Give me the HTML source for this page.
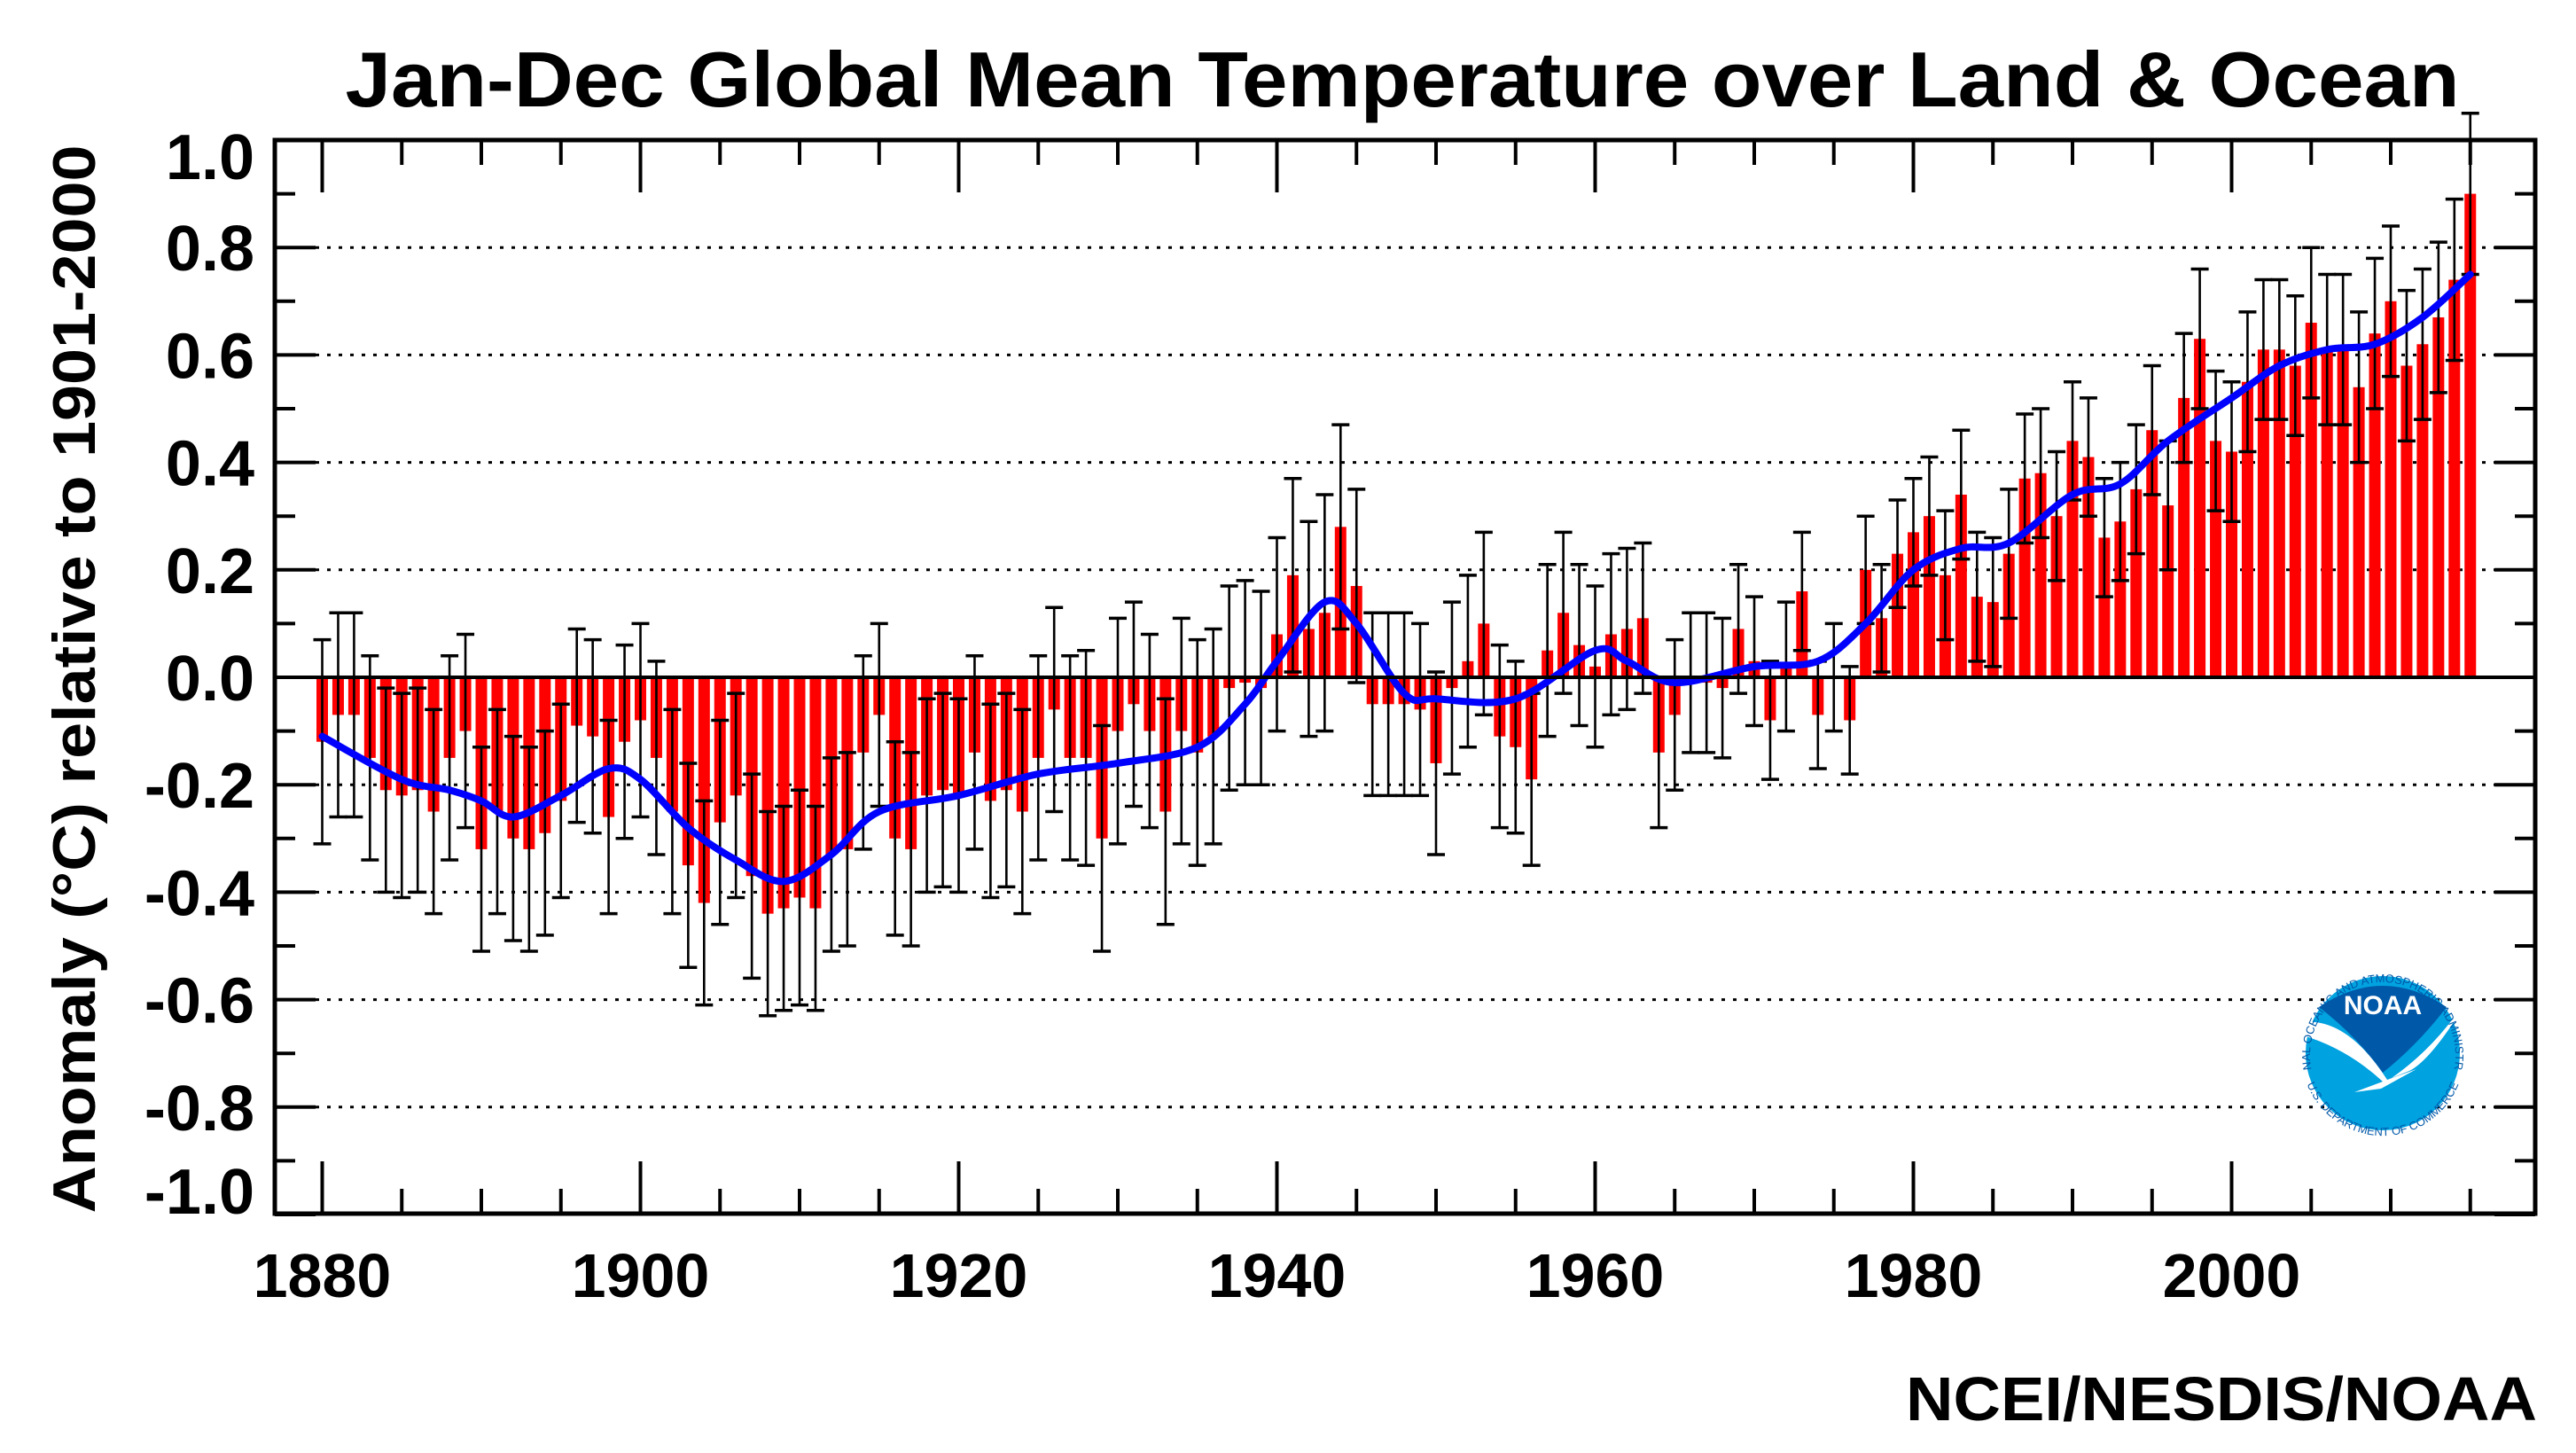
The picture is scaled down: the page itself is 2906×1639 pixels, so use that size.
<!DOCTYPE html>
<html><head><meta charset="utf-8"><style>
html,body{margin:0;padding:0;background:#fff}
svg{display:block;font-family:"Liberation Sans",Arial,sans-serif}
</style></head><body>
<svg id="chart" width="2906" height="1639" viewBox="0 0 2906 1639" xmlns="http://www.w3.org/2000/svg">
<rect width="2906" height="1639" fill="#fff"/>
<text x="1582" y="120" font-size="88" font-weight="bold" text-anchor="middle" textLength="2385" lengthAdjust="spacingAndGlyphs">Jan-Dec Global Mean Temperature over Land &amp; Ocean</text>
<text transform="translate(107,766) rotate(-90)" font-size="68" font-weight="bold" text-anchor="middle" textLength="1205" lengthAdjust="spacingAndGlyphs">Anomaly (°C) relative to 1901-2000</text>
<text x="2862" y="1602" font-size="70" font-weight="bold" text-anchor="end" textLength="712" lengthAdjust="spacingAndGlyphs">NCEI/NESDIS/NOAA</text>
<g id="grid"></g><g id="bars"></g><g id="errs"></g><g id="smooth"></g><g id="axes"></g>
<g transform="translate(2688,1188)">
<defs><path id="arcTop" d="M -80 20 A 82 82 0 1 1 80 20"/><path id="arcBot" d="M -88 28 A 92 92 0 0 0 88 28"/></defs>
<circle r="87" fill="#00a2e0"/>
<path d="M -72 -52 Q 0 -100 72 -52 Q 40 -10 0 22 Q -30 -20 -72 -52 Z" fill="#0058a8"/>
<path d="M -90 -35 Q -40 -40 5 30 L 38 18 L -2 40 L -32 44 L 0 32 Q -40 -5 -90 -20 Z" fill="#fff"/>
<path d="M 80 -35 Q 50 10 30 20 L 10 28 Q 50 0 80 -40 Z" fill="#fff"/>
<text x="0" y="-44" font-size="30" font-weight="bold" fill="#fff" text-anchor="middle">NOAA</text>
<text font-size="13" fill="#0058a8"><textPath href="#arcTop" startOffset="50%" text-anchor="middle">NATIONAL OCEANIC AND ATMOSPHERIC ADMINISTRATION</textPath></text>
<text font-size="13" fill="#0058a8"><textPath href="#arcBot" startOffset="50%" text-anchor="middle">U.S. DEPARTMENT OF COMMERCE</textPath></text>
</g>
</svg>
<script>
const years = [];
for (let y = 1880; y <= 2015; y++) years.push(y);
const anomalies = [-0.12,-0.07,-0.07,-0.15,-0.21,-0.22,-0.21,-0.25,-0.15,-0.10,
-0.32,-0.25,-0.30,-0.32,-0.29,-0.23,-0.09,-0.11,-0.26,-0.12,
-0.08,-0.15,-0.25,-0.35,-0.42,-0.27,-0.22,-0.37,-0.44,-0.43,
-0.41,-0.43,-0.33,-0.32,-0.14,-0.07,-0.30,-0.32,-0.22,-0.21,
-0.22,-0.14,-0.23,-0.21,-0.25,-0.15,-0.06,-0.15,-0.15,-0.30,
-0.10,-0.05,-0.10,-0.25,-0.10,-0.14,-0.11,-0.02,-0.01,-0.02,
0.08,0.19,0.09,0.12,0.28,0.17,-0.05,-0.05,-0.05,-0.06,
-0.16,-0.02,0.03,0.10,-0.11,-0.13,-0.19,0.05,0.12,0.06,
0.02,0.08,0.09,0.11,-0.14,-0.07,-0.01,-0.01,-0.02,0.09,
0.03,-0.08,0.02,0.16,-0.07,0.00,-0.08,0.20,0.11,0.23,
0.27,0.30,0.19,0.34,0.15,0.14,0.23,0.37,0.38,0.30,
0.44,0.41,0.26,0.29,0.35,0.46,0.32,0.52,0.63,0.44,
0.42,0.55,0.61,0.61,0.58,0.66,0.61,0.61,0.54,0.64,
0.70,0.58,0.62,0.67,0.74,0.90];
const uncertainty = [0.19,0.19,0.19,0.19,0.19,0.19,0.19,0.19,0.19,0.18,
0.19,0.19,0.19,0.19,0.19,0.18,0.18,0.18,0.18,0.18,
0.18,0.18,0.19,0.19,0.19,0.19,0.19,0.19,0.19,0.19,
0.20,0.19,0.18,0.18,0.18,0.17,0.18,0.18,0.18,0.18,
0.18,0.18,0.18,0.18,0.19,0.19,0.19,0.19,0.20,0.21,
0.21,0.19,0.18,0.21,0.21,0.21,0.20,0.19,0.19,0.18,
0.18,0.18,0.20,0.22,0.19,0.18,0.17,0.17,0.17,0.16,
0.17,0.16,0.16,0.17,0.17,0.16,0.16,0.16,0.15,0.15,
0.15,0.15,0.15,0.14,0.14,0.14,0.13,0.13,0.13,0.12,
0.12,0.11,0.12,0.11,0.10,0.10,0.10,0.10,0.10,0.10,
0.10,0.11,0.12,0.12,0.12,0.12,0.12,0.12,0.12,0.12,
0.11,0.11,0.11,0.11,0.12,0.12,0.12,0.12,0.13,0.13,
0.13,0.13,0.13,0.13,0.13,0.14,0.14,0.14,0.14,0.14,
0.14,0.14,0.14,0.14,0.15,0.15];
const smoothYears = [1880,1885,1888,1890,1892,1895,1898,1900,1903,1906,1909,1912,1915,1920,1925,1930,1935,1938,1940,1943,1945,1948,1950,1955,1960,1962,1965,1970,1974,1977,1980,1983,1986,1990,1993,1996,2000,2003,2006,2009,2012,2015];
const smoothValues = [-0.11,-0.19,-0.21,-0.23,-0.26,-0.22,-0.17,-0.19,-0.28,-0.34,-0.38,-0.33,-0.25,-0.22,-0.18,-0.16,-0.13,-0.05,0.03,0.14,0.10,-0.03,-0.04,-0.04,0.05,0.03,-0.01,0.02,0.03,0.10,0.20,0.24,0.25,0.34,0.36,0.44,0.52,0.58,0.61,0.62,0.67,0.75];
const yTicks = [-1.0,-0.8,-0.6,-0.4,-0.2,0.0,0.2,0.4,0.6,0.8,1.0];
const yTickLabels = ["-1.0","-0.8","-0.6","-0.4","-0.2","0.0","0.2","0.4","0.6","0.8","1.0"];
const xTicks = [1880,1900,1920,1940,1960,1980,2000];
const xTickLabels = ["1880","1900","1920","1940","1960","1980","2000"];

const NS = "http://www.w3.org/2000/svg";
const L = 310, R = 2860, T = 158, B = 1369;
const sx = y => 363.5 + (y - 1880) * 17.95;
const sy = v => 764 - v * 606;
function mk(tag, attrs, parent) {
  const e = document.createElementNS(NS, tag);
  for (const k in attrs) e.setAttribute(k, attrs[k]);
  parent.appendChild(e); return e;
}
const grid = document.getElementById('grid'), bars = document.getElementById('bars'),
      errs = document.getElementById('errs'), sm = document.getElementById('smooth'),
      axes = document.getElementById('axes');
yTicks.forEach((v, i) => {
  if (v === 0 || Math.abs(v) === 1) return;
  const g = mk('line', {x1: L + 46, x2: R - 46, y1: sy(v), y2: sy(v), stroke: '#000', 'stroke-width': 3, 'stroke-dasharray': '4 9'}, grid);
  
  
});
years.forEach((yr, i) => {
  const v = anomalies[i];
  const b = mk('rect', {x: sx(yr) - 6.5, y: Math.min(sy(v), sy(0)), width: 13, height: Math.abs(sy(v) - sy(0)), fill: '#ff0000'}, bars);
  
  
});
years.forEach((yr, i) => {
  const v = anomalies[i], u = uncertainty[i], x = sx(yr);
  const g = mk('g', {stroke: '#000', 'stroke-width': 2.6}, errs);
  
  
  mk('line', {x1: x, x2: x, y1: sy(v + u), y2: sy(v - u)}, g);
  mk('line', {x1: x - 10, x2: x + 10, y1: sy(v + u), y2: sy(v + u), 'stroke-width': 3.5}, g);
  mk('line', {x1: x - 10, x2: x + 10, y1: sy(v - u), y2: sy(v - u), 'stroke-width': 3.5}, g);
});
const pts = smoothYears.map((y, i) => [sx(y), sy(smoothValues[i])]);
let d = 'M' + pts[0][0] + ' ' + pts[0][1];
for (let i = 0; i < pts.length - 1; i++) {
  const p0 = pts[Math.max(0, i - 1)], p1 = pts[i], p2 = pts[i + 1], p3 = pts[Math.min(pts.length - 1, i + 2)];
  const c1 = [p1[0] + (p2[0] - p0[0]) / 6, p1[1] + (p2[1] - p0[1]) / 6];
  const c2 = [p2[0] - (p3[0] - p1[0]) / 6, p2[1] - (p3[1] - p1[1]) / 6];
  d += ' C' + c1.join(' ') + ' ' + c2.join(' ') + ' ' + p2.join(' ');
}
const line = mk('path', {d: d, fill: 'none', stroke: '#0000ff', 'stroke-width': 8, 'stroke-linejoin': 'round', 'stroke-linecap': 'round'}, sm);


const z = mk('line', {x1: L, x2: R, y1: sy(0), y2: sy(0), stroke: '#000', 'stroke-width': 4}, axes);


const fr = mk('rect', {x: L, y: T, width: R - L, height: B - T, fill: 'none', stroke: '#000', 'stroke-width': 5}, axes);


for (let k = -10; k <= 10; k++) {
  const v = k / 10, len = (k % 2 === 0) ? 46 : 23;
  mk('line', {x1: L, x2: L + len, y1: sy(v), y2: sy(v), stroke: '#000', 'stroke-width': 4}, axes);
  mk('line', {x1: R, x2: R - len, y1: sy(v), y2: sy(v), stroke: '#000', 'stroke-width': 4}, axes);
}
yTicks.forEach((v, i) => {
  const cy = Math.min(Math.max(sy(v), T + 18), B - 26);
  const t = mk('text', {x: 287, y: cy + 26, 'font-size': 72, 'font-weight': 'bold', 'text-anchor': 'end'}, axes);
  t.textContent = yTickLabels[i];
  
  
});
for (let y = 1880; y <= 2015; y += 5) {
  const len = ((y - 1880) % 20 === 0) ? 59 : 28;
  mk('line', {x1: sx(y), x2: sx(y), y1: B, y2: B - len, stroke: '#000', 'stroke-width': 4}, axes);
  mk('line', {x1: sx(y), x2: sx(y), y1: T, y2: T + len, stroke: '#000', 'stroke-width': 4}, axes);
}
xTicks.forEach((y, i) => {
  const t = mk('text', {x: sx(y), y: 1463, 'font-size': 70, 'font-weight': 'bold', 'text-anchor': 'middle'}, axes);
  t.textContent = xTickLabels[i];
  
  
});
</script>
</body></html>
